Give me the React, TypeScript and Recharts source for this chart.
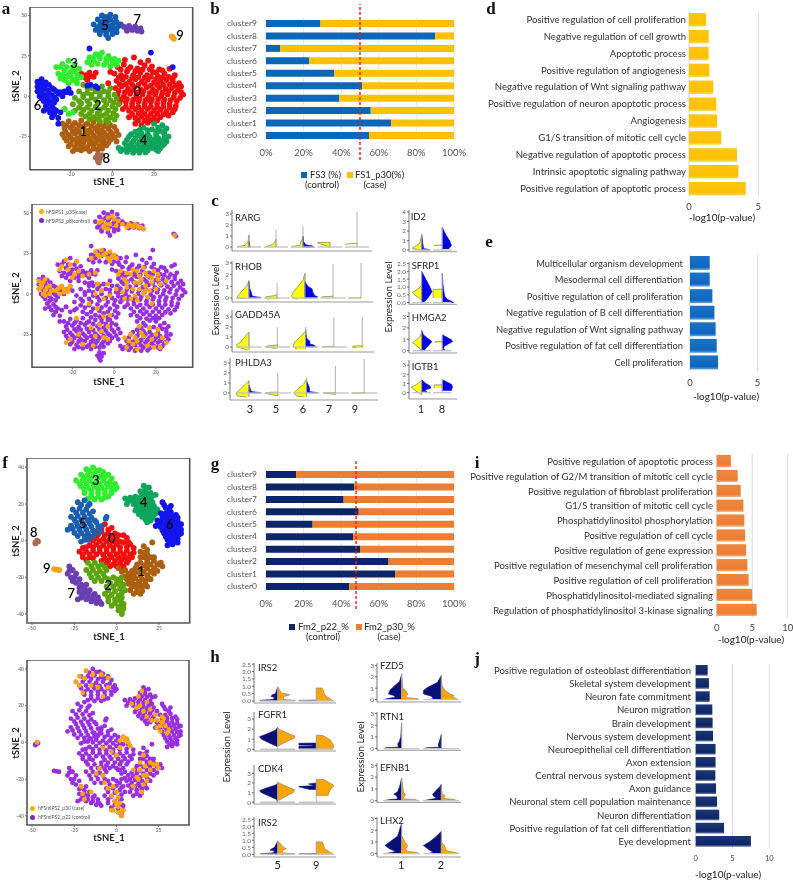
import React from 'react';
import {
  BarChart, Bar, XAxis, YAxis, CartesianGrid, LineChart, Line, ReferenceLine, ReferenceDot, ReferenceArea,
  ScatterChart, Scatter, ComposedChart, Area,
} from 'recharts';

const FONT = 'Lato, "Noto Sans", sans-serif';

// panel b / g: share of the control sample per cluster (top row first)
const clusters = ['cluster9', 'cluster8', 'cluster7', 'cluster6', 'cluster5', 'cluster4', 'cluster3', 'cluster2', 'cluster1', 'cluster0'];
const fs3Control = [29, 90, 7.5, 23, 36.3, 51.2, 39, 55.7, 66.5, 54.8];
const fm2Control = [16, 46.8, 41.3, 49.3, 24.8, 46.3, 50, 65.2, 68.8, 44.3];
const pctTicks = [0, 20, 40, 60, 80, 100];

// panels d, e, i, j
const dTerms = ['Positive regulation of cell proliferation', 'Negative regulation of cell growth', 'Apoptotic process', 'Positive regulation of angiogenesis', 'Negative regulation of Wnt signaling pathway', 'Positive regulation of neuron apoptotic process', 'Angiogenesis', 'G1/S transition of mitotic cell cycle', 'Negative regulation of apoptotic process', 'Intrinsic apoptotic signaling pathway', 'Positive regulation of apoptotic process'];
const dValues = [1.23, 1.42, 1.42, 1.47, 1.75, 1.97, 2.02, 2.33, 3.46, 3.56, 4.09];
const eTerms = ['Multicellular organism development', 'Mesodermal cell differentiation', 'Positive regulation of cell proliferation', 'Negative regulation of B cell differentiation', 'Negative regulation of Wnt signaling pathway', 'Positive regulation of fat cell differentiation', 'Cell proliferation'];
const eValues = [1.46, 1.46, 1.66, 1.81, 1.9, 1.98, 2.08];
const iTerms = ['Positive regulation of apoptotic process', 'Positive regulation of G2/M transition of mitotic cell cycle', 'Positive regulation of fibroblast proliferation', 'G1/S transition of mitotic cell cycle', 'Phosphatidylinositol phosphorylation', 'Positive regulation of cell cycle', 'Positive regulation of gene expression', 'Positive regulation of mesenchymal cell proliferation', 'Positive regulation of cell proliferation', 'Phosphatidylinositol-mediated signaling', 'Regulation of phosphatidylinositol 3-kinase signaling'];
const iValues = [2.0, 2.96, 3.38, 3.76, 3.9, 4.0, 4.13, 4.32, 4.5, 5.0, 5.63];
const jTerms = ['Positive regulation of osteoblast differentiation', 'Skeletal system development', 'Neuron fate commitment', 'Neuron migration', 'Brain development', 'Nervous system development', 'Neuroepithelial cell differentiation', 'Axon extension', 'Central nervous system development', 'Axon guidance', 'Neuronal stem cell population maintenance', 'Neuron differentiation', 'Positive regulation of fat cell differentiation', 'Eye development'];
const jValues = [1.63, 1.8, 1.9, 2.26, 2.3, 2.35, 2.7, 2.7, 2.67, 2.76, 2.9, 3.2, 3.85, 7.5];

// panel a: tSNE points read per cluster, flat x,y lists
const aC0 = [6, 22.5, 10.4, 24, 13.5, 21, 17.2, 22, 2.5, 18, 5.5, 19.6, 8.7, 18, 12, 17.2, 15.5, 19, 19, 18.5, 22.5, 16.5, 1, 14, 4.2, 13, 7, 15.3, 10, 13, 13.5, 14.5, 16.7, 13, 19.5, 15, 22, 12.2, 25, 14, 27.5, 17, 30, 13, 2, 9.5, 5, 10.3, 8.3, 9, 11, 10.5, 14.2, 9, 17, 10.2, 20, 8.5, 23.3, 9, 26, 10, 29, 9.2, 32, 8, 1.5, 5, 4.5, 6.2, 7.5, 4.5, 10.5, 5.5, 13.7, 4, 16.5, 5.5, 19.5, 4, 22.5, 5.3, 25.5, 4.5, 28.5, 5, 31.5, 4, 34, 1, 2.5, 1, 5.5, 0, 8.5, 1.5, 11.5, 0, 14.5, 1, 17.5, -0.5, 20.5, 1, 23.5, 0, 26.5, 1, 29.5, -0.5, 32.5, -1, 3.5, -4, 6.5, -3.5, 9.5, -4.5, 12.5, -3.5, 15.5, -4.5, 18.5, -3.5, 21.5, -4.5, 24.5, -4, 27.5, -5, 30.5, -6, 5, -8, 8, -9, 11, -8, 14, -9, 17, -8, 20, -9, 23, -8.5, 26, -9.5, 29, -10, 8, -13, 11, -13.5, 14, -12.5, 17, -13, 20, -13.5, 23, -13, 11, -17, 14, -18, 17, -16.5, 20, -16, -15, 14, -13, 11.5, -11, 14.5, -9, 12, -12, 10, -8, 14.5, -15, 12, -23, -8, -28, -11, -1, 15, -2, 8,
  4, 16.5, 7.5, 16.5, 11, 15.5, 14.5, 16.5, 18, 16.5, 21, 14.5, 24, 16, 3, 11.5, 6.5, 12, 9.5, 11.5, 12.5, 11.8, 15.5, 11.5, 18.5, 12, 21, 10.5, 24, 11.5, 27, 12, 29, 11, 3.5, 7.5, 6.5, 7.5, 9.5, 7.2, 12.5, 7, 15.5, 7.5, 18.5, 6.5, 21.5, 7, 24.5, 7, 27.5, 7.2, 30.5, 6.5, 33, 6, 3, 3.2, 6, 2.5, 9, 3, 12, 2.2, 15, 3, 18, 2, 21, 2.7, 24, 2.2, 27, 3, 30, 2, 33, 2.5, 4, -2, 7, -1.8, 10, -2.2, 13, -1.7, 16, -2.3, 19, -2, 22, -1.8, 25, -2.2, 28, -2.5, 31, -3, 6.5, -6.5, 9.5, -6.2, 12.5, -6.7, 15.5, -6.3, 18.5, -6.5, 21.5, -6.8, 24.5, -6.5, 27.5, -7, 30, -8, 9.5, -11, 12.5, -10.8, 15.5, -11, 18.5, -11, 21.5, -11, 24.5, -11.3, 27, -12, 12.5, -15, 15.5, -15.2, 18.5, -15, 21.5, -15, -13, 13, -10.5, 12.5];
const aC1 = [-24, -17, -21, -15.5, -18, -16.5, -15, -15, -12, -17, -9, -16, -6, -17.5, -3, -16, -23, -20, -20, -19.5, -17, -20.5, -14, -19, -11, -21, -8, -20, -5, -21, -2, -20, 1, -19, -24, -23.5, -21, -24, -18, -23, -15, -24.5, -12, -23.5, -9, -24.5, -6, -23.5, -3, -24.5, 0, -23.5, 3, -24, -22, -27.5, -19, -27, -16, -28, -13, -27, -10, -28, -7, -27, -4, -28, -1, -27, 2, -28, -21, -31, -18, -31.5, -15, -30.5, -12, -31.5, -9, -30.5, -6, -31, -3, -30.5, -19, -34, -15, -33.5, -11, -34, -7, -33,
  -22, -18, -19, -18, -16, -18, -13, -17.7, -10, -18.5, -7, -18.7, -4, -18.5, -1, -18, -22.5, -22, -19, -21.8, -16, -22, -13, -21.5, -10, -22.3, -7, -22, -4, -22.7, -1, -22, 2, -21.5, -23, -25.8, -20, -25.5, -17, -26, -14, -25.7, -11, -26, -8, -25.8, -5, -26, -2, -25.5, 1, -25.7, -20, -29.5, -17, -29.3, -14, -29, -11, -29.5, -8, -29, -5, -29.3, -2, -29, -17, -32.8, -13, -32.5, -9, -32.5, -5, -32.5];
const aC2 = [-14, 7, -10, 5, -16, 3, -12, 2, -8, 3, -4, 3, -1, 5, -18, -1, -14, -0.5, -10, -1, -6, 0, -2, 0, 1, 1, -19, -5, -15, -4.5, -11, -5, -7, -4, -3, -5, 0.5, -4, -18, -9, -14, -8.5, -10, -9, -6, -8.5, -2, -9, 1.5, -8, -13, -12.5, -9, -13, -5, -12, -1, -13, 2, -12, -6, -15.5, -2, -16,
  -12, 5, -8, 6, -5, 6, -14, 1, -10, 1, -6, 2, -2, 2.5, -16, -3, -12, -3, -8, -2, -4, -2.5, -1, -2.5, 2, -1.5, -16, -7, -12, -7, -8, -6.5, -4, -7, 0, -6.5, 3, -5, -15, -11, -11, -11, -7, -10.5, -3, -11, 0.5, -10.5, -11, -14.5, -7, -14, -3, -14.5, 1, -14.5];
const aC3 = [-27, 18, -24, 20, -21, 22, -18, 20, -16, 17, -26, 14, -23, 16, -20, 15, -17, 13, -25, 11, -22, 12, -19, 10, -15, 12, -21, 8, -17, 8, -11, 24, -8, 26, -5, 27, -2, 25, 1, 23, -12, 21, -9, 22, -6, 23.5, -3, 21, 0, 20, 3, 22, -23, -8, -21, -11, -19, -10,
  -25, 18, -22, 18, -19, 18, -24, 13, -21, 13.5, -18, 15.5, -23, 10, -20, 12, -17, 10.5, -9, 24, -6, 25.5, -3, 23, -1, 23, -10, 19.5, -7, 20, -4, 19.5, -1, 18.5, 2, 19.5];
const aC4 = [20, -17, 24, -18, 26, -20, 15, -19.5, 19, -20.5, 23, -21.5, 11, -22, 14, -23, 17, -23.5, 21, -24, 25, -23.5, 27, -25, 8, -25, 11, -26, 14, -26.5, 17, -27, 20, -27, 23, -27.5, 26, -28, 6, -29, 9, -29.5, 12, -30, 15, -30, 18, -30.5, 21, -30, 24, -30.5, 5, -33, 8, -33, 11, -33.5, 14, -33, 17, -33.5, 21, -33, 3, -32, 22, -34,
  22, -19.5, 17, -21, 21, -22, 13, -21, 25, -21.5, 9, -23.5, 12, -24.2, 15, -25, 18, -25.3, 22, -26, 25, -26, 7, -27, 10, -27.8, 13, -28.3, 16, -28.5, 19, -28.7, 22, -29, 25, -29.5, 7, -31, 10, -31.5, 13, -31.8, 16, -31.8, 19, -32, 23, -32.3, 4, -34, 7, -34.5, 10, -35, 13, -35, 16, -34.8];
const aC5 = [-5, 50, -1, 50.5, 1.5, 49, -7, 47.5, -4, 47, -1, 47.5, 2, 46, -9, 44.5, -6, 44, -3, 44.5, 0, 44, 3, 43.5, 4, 44.5, -8, 41, -5, 41, -2, 41.5, 1, 41, -6, 38.5, -3, 38, 0, 38.5, -2, 36,
  -3, 49, -5.5, 45.7, -2.5, 46, 0.5, 45.5, -7, 42.5, -4, 42.5, -1, 43, 2, 42, -6, 39.8, -3, 39.8, 0, 40, 2, 39.5];
const aC6 = [-36, 9, -34, 10.5, -36, 6, -33, 6.5, -30.5, 7, -36, 3, -34, 3, -31, 3.5, -28, 4, -35, 0, -32, 0.5, -29, 0.5, -26, 1.5, -23, 3, -20, 2, -24, 0, -21, 4.5, -33, -3, -30, -3, -27, -2, -32, -6, -29, -6.5, -33, -9, -30, -10, -27, -9, -29, -13, -26, -13.5, -26, -17, -10.5, 7, -8, 6, -12, 6.5, -7, 5, 18.5, 27, 29, 18, -11, 29.5,
  -34.5, 8, -32, 8.5, -35, 4.5, -32.5, 5, -29, 5, -33.5, 1.5, -30.5, 2, -27, 3, -25, 2.5, -22, 2.5, -34, -1.5, -31, -1.5, -28, -0.8, -31, -4.5, -28, -4, -31, -8, -28, -8, -28, -11, -25, -10];
const aC7 = [5.5, 43, 7, 40.5, 8, 43.5, 9.5, 41, 11, 43, 12, 40.5, 13.5, 42, 14, 40, 6.5, 42, 8.5, 42, 10, 42, 11.5, 41.5, 13, 41];
const aC8 = [-7, -36, -8, -38, -6, -38.5, -7, -40, -5, -36.5, -6.5, -41, -6.5, -37.3, -7, -39];
const aC9 = [29, 36.5, 29.6, 35.5, 28.5, 37];
const aCase = [-36, 3, -35, 6, -33, 9, -34, 0, -32, 4, -30, 2, -33, -1, -36, 8, -28, 2, -26, 0, -24, 3, -22, 1.5, -26, 4, -21, 5, -6, 45, -3, 47, -5, 41, -2, 43, 0, 46, 1, 42, 4, 43, 6, 41, 8, 42, 10, 43, 12, 41, 14, 40, 29, 36, -9, 26, -6, 27, -4, 25, -2, 26, 0, 24, -7, 23, -3, 22, 1, 22, -25, 17, -22, 15, -19, 12, -23, 21, -18, 20, -15, 11, -12, 12, -9, 13, 2, 12, 5, 9, 8, 12, 11, 14, 14, 16, 6, 4, 10, 7, 13, 9, 16, 11, 19, 14, 12, 3, 15, 5, 18, 7, 21, 9, 10, -1, 14, 0, 17, 2, 20, 3, -3, 6, -6, 2, -2, -1, 1, 3, 5, -3, 18, -6, -8, -9, -5, -14, -3, -20, -6, -23, -9, -26, -3, -28, -18, -15, -21, -28, -15, -31, -10, -32, 5, -27, 8, -25, 11, -29, 14, -26, 17, -21, 20, -25, 23, -27, 9, -31, 16, -32, 12, -20, 22, -33,
  -35, 4, -33, 2, -31, 0, -34, 7, -31, 5, -27, 3, -24, 1, -25, 5, -22, 3, -7, 44, -4, 43, -1, 48, -3, 40, 2, 45, 7, 43, 9, 41, 11, 42, 13, 41, -8, 24, -5, 24, -1, 23, -11, 22, -2, 20, -26, 15, -21, 18, -17, 14, -20, 10, 3, 14, 6, 13, 9, 15, 12, 11, 15, 13, 18, 10, 6, 7, 9, 3, 12, 7, 15, 2, 21, 12, 4, 1, 8, -3, 11, -4, 16, -2, 22, 6, 25, 8, -8, 6, -5, -3, -9, 0, -12, -6, -2, -13, -7, -19, -11, -21, -5, -27, -17, -25, -23, -30, 7, -29, 10, -27, 13, -24, 18, -28, 21, -22, 25, -30, 6, -33, 19, -33, 11, -34];

// panel f
const fC0 = [-7, 9, -3, 7, -13, 5, -9, 5, -5, 4, -1, 4, -16, 2, -12, 1.5, -8, 1, -4, 1, 0, 1, 4, 3, 7, -1, -20, -4, -16, -2.5, -12, -2, -8, -2.5, -4, -2.5, 0, -2, 4, -1, 8, -2, 10, -4, -22, -6, -18, -6, -14, -5.5, -10, -6, -6, -6, -2, -5.5, 2, -6, 6, -5.5, 10, -6.5, -20, -9, -16, -9, -7, -9.5, -3, -9, 1, -9, 5, -9, 9, -9, -6, -12.5, -2, -13, 2, -12, 6, -12, 2, -15,
  -11, 3.5, -7, 3, -3, 2.5, 1, 3, -14, 0, -10, -0.2, -6, -0.5, -2, -0.5, 2, -0.5, 6, 1.5, -18, -3.5, -14, -3.7, -10, -4, -6, -4.3, -2, -4, 2, -3.7, 6, -3.5, -20, -7.5, -16, -7.5, -12, -7.5, -8, -7.8, -4, -7.8, 0, -7.5, 4, -7.5, 8, -7.5, -18, -10.5, -14, -9.5, -9, -11, -5, -11, -1, -11, 3, -10.5, 7, -10.5, -4, -14, 0, -14, 4, -14, -5, 6, -9, 7];
const fC1 = [16, -3, 18, -5, 14, -6, 21, -1, 16, -9, 20, -9, 14, -12, 18, -12, 22, -11, 25, -13, 11, -15, 14, -15.5, 18, -15, 22, -15, 27, -14, 3, -17, 7, -18, 10, -18.5, 14, -19, 18, -19, 22, -18, 6, -21, 9, -22, 13, -22.5, 17, -22, 20, -21, 9, -25, 12, -26, 15, -25.5, 18, -25, 10, -29, 14, -29,
  16, -6.5, 18, -7.5, 14, -9, 18, -10.5, 22, -9, 12, -13, 16, -13.5, 20, -13, 24, -13, 26, -12, 9, -16.5, 12, -17, 16, -17, 20, -17, 24, -16.5, 5, -19.5, 8, -20, 11, -20.5, 15, -21, 19, -20.5, 7, -23.5, 11, -24, 14, -24, 17, -24, 8, -27, 12, -28, 15, -27.5, 5, -16, 1, -15];
const fC2 = [-17, -12, -13, -12, -9, -13, -18, -16, -14, -16, -10, -16.5, -6, -16, -15, -20, -11, -20, -7, -20, -2, -20, 2, -22, 4, -24, -6, -25, -2, -25, 2, -26, 5, -27, -7, -29, -3, -29.5, 1, -30, 3, -31, -5, -33, -1, -34, 3, -34, 1, -38, 4, -37, 3, -40,
  -15, -14, -11, -14, -7, -14.5, -16, -18, -12, -18, -8, -18, -13, -22, -9, -22, -5, -21, 0, -21, 3, -20, -4, -23, 0, -23.5, 3, -24.5, -5, -27, -1, -27.5, 3, -28.5, -5, -31, -1, -32, 2, -32.5, -3, -35.5, 1, -36, 4, -34.5, 3, -38.5];
const fC3 = [-18, 39, -14, 40, -10, 38.5, -21, 36, -17, 36, -13, 36.5, -9, 35.5, -5, 36, -24, 33, -20, 33, -16, 33, -12, 32.5, -8, 33, -4, 32, -1, 31, -21, 29.5, -17, 29, -13, 29.5, -9, 29, -5, 29.5, -1, 28, -19, 26, -15, 25.5, -11, 26, -7, 25.5, -3, 26, -17, 23, -13, 22.5, -9, 22.5,
  -16, 38, -12, 38.3, -8, 37.5, -19, 34.5, -15, 34.7, -11, 34.5, -7, 34.7, -3, 34, -22, 31, -18, 31, -14, 31, -10, 30.8, -6, 31, -2, 30, -19, 27.7, -15, 27.5, -11, 27.7, -7, 27.5, -3, 27.7, 0, 29, -15, 24, -11, 24, -7, 23.5, -5, 24];
const fC4 = [16, 30, 19, 29, 14, 27, 17, 26.5, 20, 26, 23, 25, 5, 23, 8, 23.5, 11, 24, 14, 23.5, 17, 23, 20, 22.5, 6, 20, 10, 20, 13, 20, 16, 19.5, 19, 19.5, 22, 19, 11, 16.5, 14, 16, 17, 16.5, 20, 16, 23, 15, 15, 13, 18, 13, 21, 12.5, 18, 10,
  17, 28.5, 15, 25, 18, 24.8, 21, 24.5, 7, 21.5, 10, 22, 13, 22, 16, 21.5, 19, 21, 21, 21, 12, 18, 15, 18, 18, 18, 21, 17.5, 24, 17, 13, 14.5, 16, 14.5, 19, 14.5, 22, 14, 17, 11.5, 20, 11];
const fC5 = [-23, 21, -19, 22, -16, 20, -26, 17, -22, 17.5, -18, 17, -14, 16, -27, 13, -23, 13.5, -19, 13, -15, 12.5, -24, 10, -20, 9.5, -16, 9.5, -12, 10, -9, 8, -29, 6, -26, 6.5, -22, 6, -18, 6, -14, 5.5, -10, 5, -23, 2.5, -19, 2.5, -15, 2, -21, -0.5, -6, 13, -6.5, 12,
  -21, 19.5, -17, 19, -24, 15.3, -20, 15.3, -16, 14.8, -25, 11.5, -21, 11.3, -17, 11.2, -13, 11, -27, 8.2, -23, 8, -19, 7.8, -15, 7.7, -11, 7.5, -25, 4.3, -21, 4.2, -17, 4, -13, 3.5, -19, 0.5, -17, 0.5];
const fC6 = [27, 21, 29, 18, 32, 19, 26, 15, 29, 15, 32, 15.5, 35, 14, 24, 11, 27, 11.5, 30, 11.5, 33, 11, 36, 10.5, 38, 9, 23, 8, 26, 7.5, 29, 8, 32, 8, 35, 7.5, 38, 6, 28, 4, 31, 4, 34, 4, 37, 3.5, 30, 0.5, 33, 0.5, 36, 1, 30, -2.5, 33, -2, 36, -1,
  28, 19.5, 31, 17, 27, 13, 30, 13.3, 33, 13.2, 36, 12.5, 25, 9.5, 28, 9.7, 31, 9.7, 34, 9.3, 37, 8.5, 27, 5.7, 30, 6, 33, 6, 36, 5.7, 29, 2.2, 32, 2.3, 35, 2.3, 38, 4, 31.5, -1, 34.5, -0.5];
const fC7 = [-28, -14, -26, -16, -29, -18, -27, -20, -24, -18, -24, -23, -21, -24, -18, -24, -22, -28, -19, -28, -16, -27, -13, -29, -21, -31, -17, -31, -14, -32, -11, -33, -9, -34.5, -23, -32,
  -27, -16, -28, -16.5, -25, -20, -26, -22, -22, -21, -22, -25.5, -19, -26, -20, -29.5, -17, -29, -14, -30, -11, -31, -18, -32, -15, -33, -12, -34, -10, -33.2];
const fC8 = [-48, -1, -47, 0, -46.5, -0.5, -48, -1.5];
const fC9 = [-37, -15.5, -35.5, -15.8, -34, -16];
const fCase = [-22, 36, -24, 33, -18, 39, -9, 37, -5, 30, -20, 27, -8, 25, -15, 31, 15, 28, 9, 21, 12, 19, 16, 17, 18, 14, 21, 12, 24, 12, 27, 11, 29, 9, 26, 6, 31, 7, 27, 14, 6, 2, 7, 0, 4, 3, 2, -3, -3, -5, -8, -3, 14, -11, 17, -13, 20, -15, 14, -15, 18, -18, 22, -12, 25, -14, 12, -19, 16, -23, 10, -24, 16, -7, 13, -20, 20, -11, -8, -18, -10, -14, -5, -25, -2, -24, 0, -27, -1, -32, 1, -35, -2, -37, 3, -38, 3, -40, 0, -34, -21, -24, -19, -31, -15, -27, -47, 0,
  -19, 35, -14, 37, -5, 35, -11, 30, -22, 31, 13, 25, 18, 22, 14, 20, 20, 18, 23, 15, 26, 9, 30, 5, 24, 8, 28, 13, 5, 1, 2, 1, 8, -2, 0, -7, 16, -18, 10, -15, 18, -21, 24, -12, 15, -27, -7, -22, -12, -17, -3, -29, 1, -30, 1, -38, 4, -37, 2, -33, -20, -28, -3, -37];

const clusterColors = ['#f50d0d', '#ad5f10', '#5ba40a', '#2fee2f', '#0ea55c', '#0f5cb0', '#1414ee', '#6a3fb2', '#a86c55', '#f8a11c'];
const aClusters = [aC0, aC1, aC2, aC3, aC4, aC5, aC6, aC7, aC8, aC9];
const fClusters = [fC0, fC1, fC2, fC3, fC4, fC5, fC6, fC7, fC8, fC9];
// cluster number labels: name, x, y
const aNumbers: [string, number, number][] = [['0', 12, 3], ['1', -14, -22], ['2', -7, -6], ['3', -18.4, 20], ['4', 15, -27.5], ['5', -3.5, 44], ['6', -36, -6], ['7', 12, 47.5], ['8', -3, -38.7], ['9', 32.5, 37.5]];
const fNumbers: [string, number, number][] = [['0', -3, 1], ['1', 14.4, -17], ['2', -5, -24.5], ['3', -12.4, 33], ['4', 16, 21], ['5', -20, 9.3], ['6', 31.3, 8.7], ['7', -26.8, -29], ['8', -49, 4.4], ['9', -41.3, -15.3]];

// violins: each cell is one category, l / r = [level, half width] for the two samples, top = tallest cell
type P = [number, number][];
type V = { l: P; r: P; top: number };
const RARG: V[] = [
  { l: [[-0.05, 0.45], [0.05, 0.4], [0.15, 0.15], [0.3, 0.1], [0.5, 0.04], [1.1, 0]], r: [[-0.02, 0.05], [0.05, 0.05], [0.2, 0.02], [0.5, 0]], top: 1.1 },
  { l: [[-0.05, 0.42], [0.05, 0.38], [0.15, 0.2], [0.3, 0.1], [0.5, 0.03], [0.7, 0]], r: [], top: 1.6 },
  { l: [[-0.05, 0.45], [0.05, 0.4], [0.15, 0.12], [0.3, 0.1], [0.6, 0.05], [0.9, 0]], r: [[-0.05, 0.4], [0.1, 0.35], [0.2, 0.1], [0.5, 0.02], [1, 0]], top: 1.9 },
  { l: [[-0.05, 0.02], [0.25, 0.3], [0.35, 0.45], [0.42, 0.45], [0.43, 0]], r: [], top: 0.4 },
  { l: [[0.22, 0.45], [0.3, 0.3], [0.33, 0]], r: [], top: 3.2 },
];
const RHOB: V[] = [
  { l: [[-0.05, 0.1], [0, 0.45], [0.1, 0.42], [0.3, 0.35], [0.6, 0.25], [1, 0.08], [1.3, 0.03], [1.5, 0]], r: [[-0.02, 0.4], [0.05, 0.42], [0.15, 0.12], [0.3, 0.1], [0.5, 0.08], [0.8, 0.03], [1.4, 0]], top: 1.5 },
  { l: [[-0.1, 0.3], [0, 0.42], [0.1, 0.4], [0.2, 0.1], [0.3, 0]], r: [], top: 1.3 },
  { l: [[-0.1, 0.25], [0, 0.45], [0.2, 0.48], [0.5, 0.42], [1, 0.25], [1.5, 0.08], [2.1, 0]], r: [[-0.02, 0.42], [0.1, 0.45], [0.2, 0.35], [0.5, 0.28], [0.8, 0.25], [1, 0.1], [1.4, 0]], top: 2.1 },
  { l: [[0.05, 0.4], [0.1, 0.4], [0.15, 0]], r: [], top: 2.9 },
  { l: [[-0.05, 0.45], [0, 0.45], [0.02, 0]], r: [], top: 3 },
];
const GADD45A: V[] = [
  { l: [[-0.3, 0.05], [0, 0.4], [0.2, 0.45], [0.5, 0.3], [1, 0.15], [1.5, 0]], r: [], top: 1.5 },
  { l: [[-0.15, 0.05], [0, 0.4], [0.1, 0.38], [0.2, 0]], r: [], top: 2 },
  { l: [[-0.2, 0.3], [0, 0.45], [0.5, 0.38], [1, 0.2], [1.6, 0]], r: [[-0.02, 0.35], [0.05, 0.35], [0.2, 0.3], [0.3, 0.15], [0.6, 0.15], [0.8, 0.05], [1.2, 0.02], [1.8, 0]], top: 2 },
  { l: [[-0.05, 0.4], [0.05, 0.35], [0.08, 0]], r: [], top: 3 },
  { l: [[-0.1, 0.2], [0, 0.35], [0.1, 0.3], [0.12, 0]], r: [], top: 3 },
];
const PHLDA3: V[] = [
  { l: [[-0.4, 0.1], [-0.3, 0.4], [0, 0.45], [0.4, 0.3], [0.9, 0.12], [1.2, 0]], r: [[-0.02, 0.4], [0.03, 0.4], [0.15, 0.08], [0.4, 0.05], [0.8, 0]], top: 1.3 },
  { l: [[-0.3, 0], [-0.1, 0.35], [0, 0.45], [0.05, 0.35], [0.1, 0]], r: [], top: 2 },
  { l: [[-0.4, 0.1], [-0.3, 0.35], [0, 0.45], [0.4, 0.3], [0.9, 0.1], [1.4, 0]], r: [[-0.02, 0.4], [0.05, 0.35], [0.15, 0.1], [0.5, 0.1], [0.8, 0.06], [1.2, 0]], top: 1.5 },
  { l: [[-0.15, 0], [0, 0.4], [0.02, 0.4], [0.04, 0]], r: [], top: 2.7 },
  { l: [[-0.1, 0.4], [0, 0.42], [0.02, 0]], r: [], top: 3.4 },
];
const ID2: V[] = [
  { l: [[0, 0.02], [0.1, 0.3], [0.2, 0.45], [0.35, 0.35], [0.7, 0.1], [1.6, 0]], r: [[-0.02, 0.4], [0.05, 0.38], [0.15, 0.08], [0.4, 0.08], [0.7, 0.05], [1.6, 0]], top: 1.6 },
  { l: [[0.42, 0.4], [0.5, 0.4], [0.52, 0]], r: [[0.1, 0.3], [0.5, 0.45], [0.6, 0.42], [1, 0.35], [1.5, 0.2], [2, 0.08], [2.4, 0]], top: 2.4 },
];
const SFRP1: V[] = [
  { l: [[0.2, 0.03], [0.5, 0.35], [0.65, 0.45], [0.85, 0.2], [1.1, 0]], r: [[0, 0.1], [0.3, 0.3], [0.7, 0.5], [1, 0.4], [1.5, 0.2], [2, 0]], top: 2 },
  { l: [[0.3, 0.45], [0.85, 0.45], [0.86, 0]], r: [[-0.02, 0.55], [0.05, 0.5], [0.2, 0.25], [0.4, 0.12], [0.7, 0.08], [1.2, 0.03], [1.9, 0]], top: 1.9 },
];
const HMGA2: V[] = [
  { l: [[-0.05, 0], [0.3, 0.15], [0.7, 0.45], [0.9, 0.3], [1.2, 0.1], [1.6, 0]], r: [[0, 0.2], [0.1, 0.15], [0.4, 0.3], [0.8, 0.5], [1, 0.35], [1.4, 0.08], [1.8, 0]], top: 1.8 },
  { l: [[0.7, 0.35], [0.78, 0.35], [0.8, 0]], r: [[0, 0.2], [0.15, 0.05], [0.4, 0.1], [0.8, 0.5], [0.95, 0.45], [1.2, 0.2], [1.4, 0]], top: 1.4 },
];
const IGTB1: V[] = [
  { l: [[-0.2, 0], [0.2, 0.3], [0.6, 0.5], [0.9, 0.25], [1.3, 0]], r: [[0.1, 0.25], [0.3, 0.15], [0.5, 0.45], [0.75, 0.4], [1, 0.2], [1.4, 0]], top: 1.4 },
  { l: [[0.5, 0.4], [0.85, 0.4], [0.86, 0]], r: [[0.2, 0.45], [0.4, 0.45], [0.6, 0.5], [0.9, 0.45], [1.2, 0.2], [1.4, 0]], top: 1.4 },
];
const IRS2a: V[] = [
  { l: [[0, 0.46], [0.05, 0.45], [0.1, 0.12], [0.25, 0.08], [0.3, 0.17], [0.4, 0.15], [0.5, 0.06], [0.95, 0]], r: [[0, 0.45], [0.05, 0.45], [0.1, 0.15], [0.3, 0.15], [0.4, 0.3], [0.45, 0.3], [0.55, 0.1], [0.95, 0]], top: 1 },
  { l: [[0, 0.45], [0.04, 0.45], [0.06, 0]], r: [[0, 0.45], [0.1, 0.38], [0.25, 0.3], [0.4, 0.22], [0.6, 0.19], [0.75, 0.18], [0.88, 0.15], [0.89, 0]], top: 0.9 },
];
const FGFR1: V[] = [
  { l: [[0.25, 0], [0.6, 0.2], [1, 0.42], [1.25, 0.47], [1.5, 0.3], [1.9, 0.05], [2.2, 0]], r: [[0.3, 0], [0.7, 0.2], [1.1, 0.42], [1.3, 0.45], [1.5, 0.32], [1.9, 0.08], [2.1, 0]], top: 2.2 },
  { l: [[0.05, 0.45], [0.3, 0.45], [0.32, 0.1], [0.4, 0.1], [0.42, 0.45], [0.6, 0.45], [0.62, 0]], r: [[0, 0.4], [0.2, 0.45], [0.5, 0.43], [0.9, 0.37], [1.2, 0.25], [1.38, 0.16], [1.4, 0]], top: 1.4 },
];
const CDK4: V[] = [
  { l: [[0, 0], [0.3, 0.03], [0.6, 0.2], [1, 0.42], [1.2, 0.47], [1.4, 0.35], [1.8, 0.05], [2, 0]], r: [[0.2, 0.03], [0.6, 0.2], [1, 0.4], [1.3, 0.44], [1.6, 0.25], [2, 0.03], [2.1, 0]], top: 2.1 },
  { l: [[1.3, 0.15], [1.6, 0.45], [1.65, 0.45], [1.7, 0.05], [1.9, 0.2], [2, 0]], r: [[0.65, 0.3], [0.9, 0.32], [1.3, 0.36], [1.7, 0.45], [1.85, 0.42], [2.1, 0.3], [2.35, 0.2], [2.37, 0]], top: 2.37 },
];
const IRS2b: V[] = [
  { l: [[0, 0.46], [0.05, 0.42], [0.1, 0.12], [0.25, 0.08], [0.3, 0.2], [0.4, 0.15], [0.5, 0.08], [0.95, 0]], r: [[0, 0.46], [0.05, 0.44], [0.1, 0.12], [0.3, 0.13], [0.4, 0.22], [0.5, 0.15], [0.95, 0]], top: 1 },
  { l: [[0, 0.45], [0.03, 0.45], [0.05, 0]], r: [[0, 0.45], [0.1, 0.38], [0.25, 0.3], [0.4, 0.22], [0.6, 0.19], [0.75, 0.18], [0.88, 0.15], [0.89, 0]], top: 0.9 },
];
const FZD5: V[] = [
  { l: [[0, 0.45], [0.1, 0.35], [0.2, 0.15], [0.35, 0.2], [0.5, 0.33], [0.8, 0.3], [1.2, 0.18], [1.6, 0.05], [2.2, 0]], r: [[0, 0.42], [0.08, 0.42], [0.15, 0.15], [0.3, 0.1], [0.5, 0.16], [0.8, 0.1], [1, 0.03], [2.2, 0]], top: 2.3 },
  { l: [[0, 0.3], [0.1, 0.2], [0.3, 0.25], [0.5, 0.45], [0.8, 0.45], [1.1, 0.33], [1.5, 0.1], [2.1, 0]], r: [[0, 0.42], [0.1, 0.38], [0.2, 0.28], [0.35, 0.32], [0.5, 0.22], [0.8, 0.1], [1.2, 0.02], [2, 0]], top: 2.1 },
];
const RTN1: V[] = [
  { l: [[0, 0.45], [0.08, 0.4], [0.12, 0.08], [0.4, 0.1], [0.6, 0.06], [1, 0.02], [2.2, 0]], r: [], top: 2.2 },
  { l: [[0, 0.45], [0.08, 0.35], [0.12, 0.05], [0.3, 0.08], [0.6, 0.05], [1.2, 0]], r: [], top: 1.2 },
];
const EFNB1: V[] = [
  { l: [[0, 0.45], [0.1, 0.3], [0.15, 0.1], [0.4, 0.12], [0.55, 0.2], [0.75, 0.1], [1.2, 0.05], [1.9, 0]], r: [[0, 0.42], [0.1, 0.35], [0.15, 0.05], [0.3, 0.05], [0.5, 0.1], [0.7, 0.05], [1.9, 0]], top: 1.9 },
  { l: [[0, 0.45], [0.1, 0.3], [0.2, 0.12], [0.4, 0.2], [0.55, 0.22], [0.9, 0.12], [1.2, 0.03], [1.4, 0]], r: [[0, 0.42], [0.1, 0.32], [0.2, 0.05], [0.4, 0.1], [0.6, 0.02], [1.2, 0]], top: 1.4 },
];
const LHX2: V[] = [
  { l: [[-0.02, 0.45], [0.1, 0.25], [0.2, 0.15], [0.4, 0.3], [0.7, 0.42], [1, 0.3], [1.5, 0.1], [2.6, 0]], r: [[0, 0.45], [0.1, 0.38], [0.2, 0.15], [0.4, 0.1], [0.7, 0.15], [1, 0.08], [1.5, 0]], top: 2.6 },
  { l: [[0, 0.35], [0.1, 0.2], [0.3, 0.3], [0.7, 0.45], [1, 0.3], [1.4, 0.15], [1.9, 0]], r: [[0, 0.45], [0.1, 0.35], [0.25, 0.12], [0.5, 0.1], [0.7, 0.08], [1, 0]], top: 1.9 },
];

const toPoints = (flat: number[]) => {
  const out: { x: number; y: number }[] = [];
  for (let i = 0; i < flat.length; i += 2) out.push({ x: flat[i], y: flat[i + 1] });
  return out;
};

function Txt({ x, y, size = 10, color = '#222', rotate = 0, anchor = 'middle', bold = false, serif = false, children }: any) {
  const shift = anchor === 'start' ? '0' : '-50%';
  return (
    <span style={{
      position: 'absolute', left: x, top: y, whiteSpace: 'nowrap', fontSize: size, color, lineHeight: 1,
      fontFamily: serif ? '"Liberation Serif", serif' : FONT, fontWeight: bold ? 700 : 400,
      transform: `translate(${shift}, -50%) rotate(${rotate}deg)`,
    }}>{children}</span>
  );
}

function Swatch({ x, y, color, size = 6, round = false }: any) {
  return <span style={{ position: 'absolute', left: x - size / 2, top: y - size / 2, width: size, height: size, background: color, borderRadius: round ? '50%' : 0 }} />;
}

// stacked 100% bars, plus the dashed cut line as its own overlay
function ShareBars({ top, control, c1, c2, cut, cutTop, cutBottom }: any) {
  const left = 266, right = 454, rowH = 12.44, yW = 46, xH = 24;
  const rows = clusters.map((name, i) => ({ name, control: control[i], casePct: 100 - control[i] }));
  return (
    <>
      <div style={{ position: 'absolute', left: left - yW, top }}>
        <BarChart width={right - left + yW + 14} height={rowH * 10 + xH} data={rows} layout="vertical" margin={{ top: 0, right: 14, bottom: 0, left: 0 }} barSize={7}>
          <CartesianGrid horizontal={false} stroke="#e6e6e6" />
          <XAxis type="number" domain={[0, 100]} ticks={pctTicks} height={xH} tickFormatter={(v) => `${v}%`} axisLine={false} tickLine={false} tickSize={0} tickMargin={8} tick={{ fontSize: 9.5, fill: '#555', fontFamily: FONT }} interval={0} />
          <YAxis type="category" dataKey="name" width={yW} axisLine={false} tickLine={false} tickSize={0} tickMargin={9} tick={{ fontSize: 8.5, fill: '#555', fontFamily: FONT }} interval={0} />
          <Bar dataKey="control" stackId="s" fill={c1} isAnimationActive={false} />
          <Bar dataKey="casePct" stackId="s" fill={c2} isAnimationActive={false} />
        </BarChart>
      </div>
      <div style={{ position: 'absolute', left, top: cutTop }}>
        <LineChart width={right - left} height={cutBottom - cutTop} data={[{ x: cut, y: 0 }, { x: cut, y: 1 }]} margin={{ top: 0, right: 0, bottom: 0, left: 0 }}>
          <XAxis type="number" dataKey="x" domain={[0, 100]} height={0} tick={false} tickLine={false} axisLine={false} />
          <YAxis type="number" domain={[0, 1]} width={0} tick={false} tickLine={false} axisLine={false} />
          <Line dataKey="y" type="linear" stroke="#f01818" strokeWidth={1.4} strokeDasharray="3 2" dot={false} isAnimationActive={false} />
        </LineChart>
      </div>
    </>
  );
}

// term bars for the enrichment panels
function TermBars({ terms, values, zero, unit, max, ticks, top, rowH, barH, color, id, labelEnd, size, tickY, tickSize = 9.5, titleX, titleY }: any) {
  const yW = zero - 300;
  const rows = terms.map((name: string, i: number) => ({ name, v: values[i] }));
  const plotH = rowH * terms.length;
  const xH = 26;
  return (
    <>
      <div style={{ position: 'absolute', left: 300, top }}>
        <BarChart width={yW + unit * max + 8} height={plotH + xH} data={rows} layout="vertical" margin={{ top: 0, right: 8, bottom: 0, left: 0 }} barSize={barH}>
          <defs>
            <linearGradient id={id} x1="0" y1="0" x2="0" y2="1">
              <stop offset="0" stopColor={color} stopOpacity={0.92} />
              <stop offset="0.8" stopColor={color} />
              <stop offset="1" stopColor={color} stopOpacity={0.6} />
            </linearGradient>
          </defs>
          <CartesianGrid horizontal={false} stroke="#dcdcdc" />
          <XAxis type="number" domain={[0, max]} ticks={ticks} height={xH} axisLine={false} tickLine={false} tickSize={0} tickMargin={tickY - top - plotH - tickSize / 2} tick={{ fontSize: tickSize, fill: '#444', fontFamily: FONT }} interval={0} />
          <YAxis type="category" dataKey="name" width={yW} axisLine={false} tickLine={false} tickSize={0} tickMargin={zero - labelEnd} tick={{ fontSize: size, fill: '#333', fontFamily: FONT }} interval={0} />
          <Bar dataKey="v" fill={`url(#${id})`} isAnimationActive={false} />
        </BarChart>
      </div>
      <Txt x={titleX} y={titleY} size={10}>-log10(p-value)</Txt>
    </>
  );
}

function Tsne({ left, top, right, bottom, xDom, yDom, xTicks, yTicks, groups, colors, numbers, dot = 2.9 }: any) {
  const yW = 14, xH = 12;
  return (
    <div style={{ position: 'absolute', left: left - yW, top }}>
      <ScatterChart width={right - left + yW + 2} height={bottom - top + xH} margin={{ top: 0, right: 2, bottom: 0, left: 0 }}>
        <XAxis type="number" dataKey="x" domain={xDom} ticks={xTicks} height={xH} interval={0} axisLine={false} tickSize={2} tickMargin={1} tick={{ fontSize: 5, fill: '#555', fontFamily: FONT }} allowDataOverflow />
        <YAxis type="number" dataKey="y" domain={yDom} ticks={yTicks} width={yW} interval={0} axisLine={false} tickSize={2} tickMargin={1} tick={{ fontSize: 5, fill: '#555', fontFamily: FONT }} allowDataOverflow />
        {groups.map((g: number[], i: number) => (
          <Scatter key={i} data={toPoints(g)} fill={colors[i]} isAnimationActive={false} shape={(p: any) => <circle cx={p.cx} cy={p.cy} r={dot} fill={colors[i]} />} />
        ))}
        <ReferenceArea x1={xDom[0]} x2={xDom[1]} y1={yDom[0]} y2={yDom[1]} fill="none" stroke="#555" strokeWidth={1.6} ifOverflow="visible" />
        {(numbers || []).map(([name, x, y]: [string, number, number]) => (
          <ReferenceDot key={name} x={x} y={y} r={0} stroke="none" ifOverflow="visible" label={{ value: name, position: 'center', fill: '#000', fontSize: 13, fontFamily: FONT, fontWeight: 600 }} />
        ))}
      </ScatterChart>
    </div>
  );
}

// rect is the axis box, zero / unit place the level scale, catX the px position of the first two categories
function ViolinPanel({ title, titleY, titleX, rect, zero, unit, catX, ticks, cells, lc, rc, stroke }: any) {
  const [l, t, r, b] = rect;
  const s = catX[1] - catX[0];
  const xDom = [1 - (catX[0] - l) / s, 1 + (r - catX[0]) / s];
  const yDom = [(zero - b) / unit, (zero - t) / unit];
  const yW = 14, pad = 6;
  return (
    <>
      <div style={{ position: 'absolute', left: l - yW, top: t - pad }}>
        <ComposedChart width={r - l + yW} height={b - t + 1 + pad} layout="vertical" margin={{ top: pad, right: 0, bottom: 0, left: 0 }}>
          <XAxis type="number" domain={xDom} height={1} tick={false} tickLine={false} axisLine={{ stroke: '#999' }} allowDataOverflow />
          <YAxis type="number" dataKey="y" reversed domain={yDom} ticks={ticks} width={yW} interval={0} axisLine={{ stroke: '#777' }} tickSize={2} tickMargin={1} tick={{ fontSize: 6.5, fill: '#666', fontFamily: FONT }} allowDataOverflow tickFormatter={(v) => (ticks.length > 5 ? v.toFixed(1) : v)} />
          {cells.map((c: V, i: number) => {
            const k = i + 1;
            return (
              <React.Fragment key={i}>
                <ReferenceLine segment={[{ x: k - 0.45, y: 0 }, { x: k + 0.45, y: 0 }]} stroke="#c4c4c4" strokeWidth={1.4} />
                <ReferenceLine segment={[{ x: k, y: 0 }, { x: k, y: c.top }]} stroke="#aaa" strokeWidth={0.9} />
              </React.Fragment>
            );
          })}
          {cells.flatMap((c: V, i: number) => {
            const k = i + 1;
            const out = [];
            if (c.l.length) out.push(<Area key={`l${i}`} data={c.l.map(([y, w]) => ({ y, v: [k - w, k] }))} dataKey="v" type="linear" fill={lc} fillOpacity={1} stroke={stroke[0]} strokeWidth={0.6} dot={false} activeDot={false} isAnimationActive={false} />);
            if (c.r.length) out.push(<Area key={`r${i}`} data={c.r.map(([y, w]) => ({ y, v: [k, k + w] }))} dataKey="v" type="linear" fill={rc} fillOpacity={1} stroke={stroke[1]} strokeWidth={0.6} dot={false} activeDot={false} isAnimationActive={false} />);
            return out;
          })}
        </ComposedChart>
      </div>
      <Txt x={titleX} y={titleY} size={9.5} anchor="start">{title}</Txt>
    </>
  );
}

const t3 = [0, 1, 2, 3];
const t4 = [0, 1, 2, 3, 4];
const t25 = [0, 0.5, 1, 1.5, 2, 2.5];
const yel = { lc: '#ffff00', rc: '#0000e6', stroke: ['#666', '#0000e6'] };
const nav = { lc: '#0a0f78', rc: '#ffa500', stroke: ['#0a0f78', '#777'] };

export default function App() {
  return (
    <div style={{ position: 'absolute', left: 0, top: 0, width: 793, height: 880, background: '#fff', overflow: 'hidden', fontFamily: FONT, filter: 'blur(0.35px)' }}>
      {[['a', 6, 8], ['b', 215, 8], ['c', 215, 200], ['d', 491, 8], ['e', 489, 241], ['f', 5, 462], ['g', 215, 463], ['h', 215, 656], ['i', 477, 462], ['j', 477, 658]].map(([s, x, y]) => (
        <Txt key={s as string} x={x} y={y} size={17} color="#111" bold serif>{s}</Txt>
      ))}

      <Tsne left={30} top={7.3} right={192.7} bottom={170} xDom={[-39.6, 38.6]} yDom={[-45.5, 55.2]} xTicks={[-20, 0, 20]} yTicks={[-25, 0, 25, 50]} groups={aClusters} colors={clusterColors} numbers={aNumbers} />
      <Txt x={109} y={182} size={9.5} bold>tSNE_1</Txt>
      <Txt x={16} y={86} size={9.5} rotate={-90} bold>tSNE_2</Txt>

      <Tsne left={32} top={204} right={192.7} bottom={367.3} xDom={[-39.3, 37.6]} yDom={[-45.2, 55.4]} xTicks={[-20, 0, 20]} yTicks={[-25, 0, 25, 50]} groups={[...aClusters, aCase]} colors={[...aClusters.map(() => '#9a2fe2'), '#ffa50a']} dot={2.4} />
      <Swatch x={41} y={211.7} color="#ffb000" size={5} round />
      <Swatch x={41} y={220.7} color="#7b2cb0" size={5} round />
      <Txt x={46} y={211.7} size={5} color="#555" anchor="start">hFSiPS1_p35(case)</Txt>
      <Txt x={46} y={220.7} size={5} color="#555" anchor="start">hFSiPS3_p8(control)</Txt>
      <Txt x={109} y={381.7} size={9.5} bold>tSNE_1</Txt>
      <Txt x={16} y={288} size={9.5} rotate={-90} bold>tSNE_2</Txt>

      <ShareBars top={16.5} control={fs3Control} c1="#0b66b8" c2="#ffc000" cut={50} cutTop={4} cutBottom={160} />
      <Swatch x={304} y={175} color="#0b66b8" />
      <Txt x={310} y={175} size={9.5} anchor="start">FS3 (%)</Txt>
      <Txt x={322} y={185} size={9.5}>(control)</Txt>
      <Swatch x={350} y={175} color="#ffc000" />
      <Txt x={355} y={175} size={9.5} anchor="start">FS1_p30(%)</Txt>
      <Txt x={375} y={185} size={9.5}>(case)</Txt>

      <ViolinPanel title="RARG" titleX={235} titleY={217.7} rect={[232, 210, 372, 251]} zero={247} unit={11} catX={[249, 276]} ticks={t3} cells={RARG} {...yel} />
      <ViolinPanel title="RHOB" titleX={235} titleY={267} rect={[232, 261, 373, 302]} zero={298} unit={11.67} catX={[249, 277]} ticks={t3} cells={RHOB} {...yel} />
      <ViolinPanel title="GADD45A" titleX={235} titleY={315} rect={[232, 310, 374, 352]} zero={347} unit={10} catX={[249, 277.3]} ticks={t3} cells={GADD45A} {...yel} />
      <ViolinPanel title="PHLDA3" titleX={235} titleY={363} rect={[230, 358, 378, 400]} zero={393} unit={10} catX={[249, 277.8]} ticks={t3} cells={PHLDA3} {...yel} />
      {[['3', 250], ['5', 276], ['6', 303], ['7', 329], ['9', 355]].map(([s, x]) => <Txt key={s as string} x={x} y={408} size={11}>{s}</Txt>)}
      <ViolinPanel title="ID2" titleX={410.7} titleY={216.7} rect={[409, 210, 457, 251.7]} zero={250} unit={9.5} catX={[421.7, 442.3]} ticks={t4} cells={ID2} {...yel} />
      <ViolinPanel title="SFRP1" titleX={411.7} titleY={266} rect={[409, 261.7, 457, 304]} zero={302.3} unit={15.6} catX={[421.7, 442.3]} ticks={t25} cells={SFRP1} {...yel} />
      <ViolinPanel title="HMGA2" titleX={411.7} titleY={318.3} rect={[409, 312.3, 457, 353.3]} zero={351} unit={11.4} catX={[421.7, 442.3]} ticks={t3} cells={HMGA2} {...yel} />
      <ViolinPanel title="IGTB1" titleX={411.7} titleY={366.7} rect={[409, 360, 457, 399]} zero={392.7} unit={9.2} catX={[421.7, 442.3]} ticks={t3} cells={IGTB1} {...yel} />
      {[['1', 421], ['8', 442]].map(([s, x]) => <Txt key={s as string} x={x} y={408} size={11}>{s}</Txt>)}
      <Txt x={216} y={300} size={9.8} rotate={-90}>Expression Level</Txt>
      <Txt x={389.3} y={296.7} size={9.8} rotate={-90}>Expression Level</Txt>

      <TermBars terms={dTerms} values={dValues} zero={689} unit={13.87} max={5} ticks={[0, 5]} top={10.9} rowH={16.9} barH={13.5} color="#ffc000" id="gd" labelEnd={686} size={9.6} tickY={208} titleX={722} titleY={217} />
      <TermBars terms={eTerms} values={eValues} zero={690} unit={13.5} max={5} ticks={[0, 5]} top={255} rowH={16.57} barH={14} color="#0b66c0" id="ge" labelEnd={683} size={9.4} tickY={384} titleX={726} titleY={396} />
      <TermBars terms={iTerms} values={iValues} zero={716.7} unit={7.1} max={10} ticks={[0, 5, 10]} top={454} rowH={14.87} barH={12.3} color="#ed7d31" id="gi" labelEnd={713} size={9.6} tickY={629} titleX={751} titleY={639} />
      <TermBars terms={jTerms} values={jValues} zero={695.7} unit={7.36} max={10} ticks={[0, 5, 10]} top={664} rowH={13.15} barH={10.7} color="#0b2567" id="gj" labelEnd={691} size={9.6} tickY={859} tickSize={7.5} titleX={728} titleY={873.7} />

      <Tsne left={27.3} top={458.3} right={190} bottom={623.3} xDom={[-53, 43.1]} yDom={[-44.9, 45.1]} xTicks={[-50, -25, 0, 25]} yTicks={[-40, -20, 0, 20, 40]} groups={fClusters} colors={['#f50d0d', '#ad5f10', '#5ba40a', '#2fee2f', '#0ea55c', '#1b5fb0', '#1414ee', '#6a3fb2', '#a86c55', '#f8a11c']} numbers={fNumbers} />
      <Txt x={109} y={636.7} size={9.5} bold>tSNE_1</Txt>
      <Txt x={16} y={541} size={9.5} rotate={-90} bold>tSNE_2</Txt>

      <Tsne left={27.3} top={660} right={189.3} bottom={825} xDom={[-53, 43]} yDom={[-45, 44.9]} xTicks={[-50, -25, 0, 25]} yTicks={[-40, -20, 0, 20, 40]} groups={[...fClusters, fCase]} colors={[...fClusters.map(() => '#9a2fe2'), '#ffa50a']} dot={2.4} />
      <Swatch x={32.7} y={808.3} color="#ffb000" size={5} round />
      <Swatch x={32.7} y={817} color="#7b2cb0" size={5} round />
      <Txt x={38} y={808.3} size={5} color="#555" anchor="start">hFSmiPS2_p30 (case)</Txt>
      <Txt x={38} y={817} size={5} color="#555" anchor="start">hFSmiPS2_p22 (control)</Txt>
      <Txt x={109} y={838.3} size={9.5} bold>tSNE_1</Txt>
      <Txt x={16} y={743} size={9.5} rotate={-90} bold>tSNE_2</Txt>

      <ShareBars top={468} control={fm2Control} c1="#0b2567" c2="#ed7d31" cut={47.9} cutTop={460} cutBottom={609} />
      <Swatch x={292} y={627} color="#0b2567" />
      <Txt x={298} y={627} size={9.5} anchor="start">Fm2_p22_%</Txt>
      <Txt x={323} y={637} size={9.5}>(control)</Txt>
      <Swatch x={359} y={627} color="#ed7d31" />
      <Txt x={364} y={627} size={9.5} anchor="start">Fm2_p30_%</Txt>
      <Txt x={389} y={637} size={9.5}>(case)</Txt>

      <ViolinPanel title="IRS2" titleX={258} titleY={668} rect={[254, 663, 336, 703]} zero={701} unit={14.7} catX={[277.7, 316.3]} ticks={t25} cells={IRS2a} {...nav} />
      <ViolinPanel title="FGFR1" titleX={258} titleY={715} rect={[254, 711.7, 336, 750.7]} zero={749} unit={10.1} catX={[277.7, 316.3]} ticks={t3} cells={FGFR1} {...nav} />
      <ViolinPanel title="CDK4" titleX={258} titleY={769} rect={[254, 765, 336, 804]} zero={802.3} unit={9.67} catX={[277.7, 316.3]} ticks={t3} cells={CDK4} {...nav} />
      <ViolinPanel title="IRS2" titleX={258} titleY={822.7} rect={[254, 816.7, 336, 856.7]} zero={854} unit={14} catX={[277.7, 316.3]} ticks={t25} cells={IRS2b} {...nav} />
      {[['5', 277.7], ['9', 316.3]].map(([s, x]) => <Txt key={s as string} x={x} y={864} size={11}>{s}</Txt>)}
      <ViolinPanel title="FZD5" titleX={380} titleY={666} rect={[376.7, 662.7, 460.7, 701.7]} zero={699.3} unit={11.4} catX={[401.3, 441]} ticks={t3} cells={FZD5} {...nav} />
      <ViolinPanel title="RTN1" titleX={380} titleY={716.7} rect={[376.7, 711.7, 460.7, 750]} zero={748.3} unit={11.67} catX={[401.3, 441]} ticks={t3} cells={RTN1} {...nav} />
      <ViolinPanel title="EFNB1" titleX={380} titleY={768.3} rect={[376.7, 763.3, 460.7, 802.7]} zero={801} unit={11.77} catX={[401.3, 441]} ticks={t3} cells={EFNB1} {...nav} />
      <ViolinPanel title="LHX2" titleX={380} titleY={820.7} rect={[376.7, 816.7, 460.7, 856.7]} zero={853.3} unit={11.67} catX={[401.3, 441]} ticks={t3} cells={LHX2} {...nav} />
      {[['1', 401.3], ['2', 441]].map(([s, x]) => <Txt key={s as string} x={x} y={864} size={11}>{s}</Txt>)}
      <Txt x={226.7} y={747} size={9.8} rotate={-90}>Expression Level</Txt>
      <Txt x={360.7} y={757} size={9.8} rotate={-90}>Expression Level</Txt>
    </div>
  );
}
